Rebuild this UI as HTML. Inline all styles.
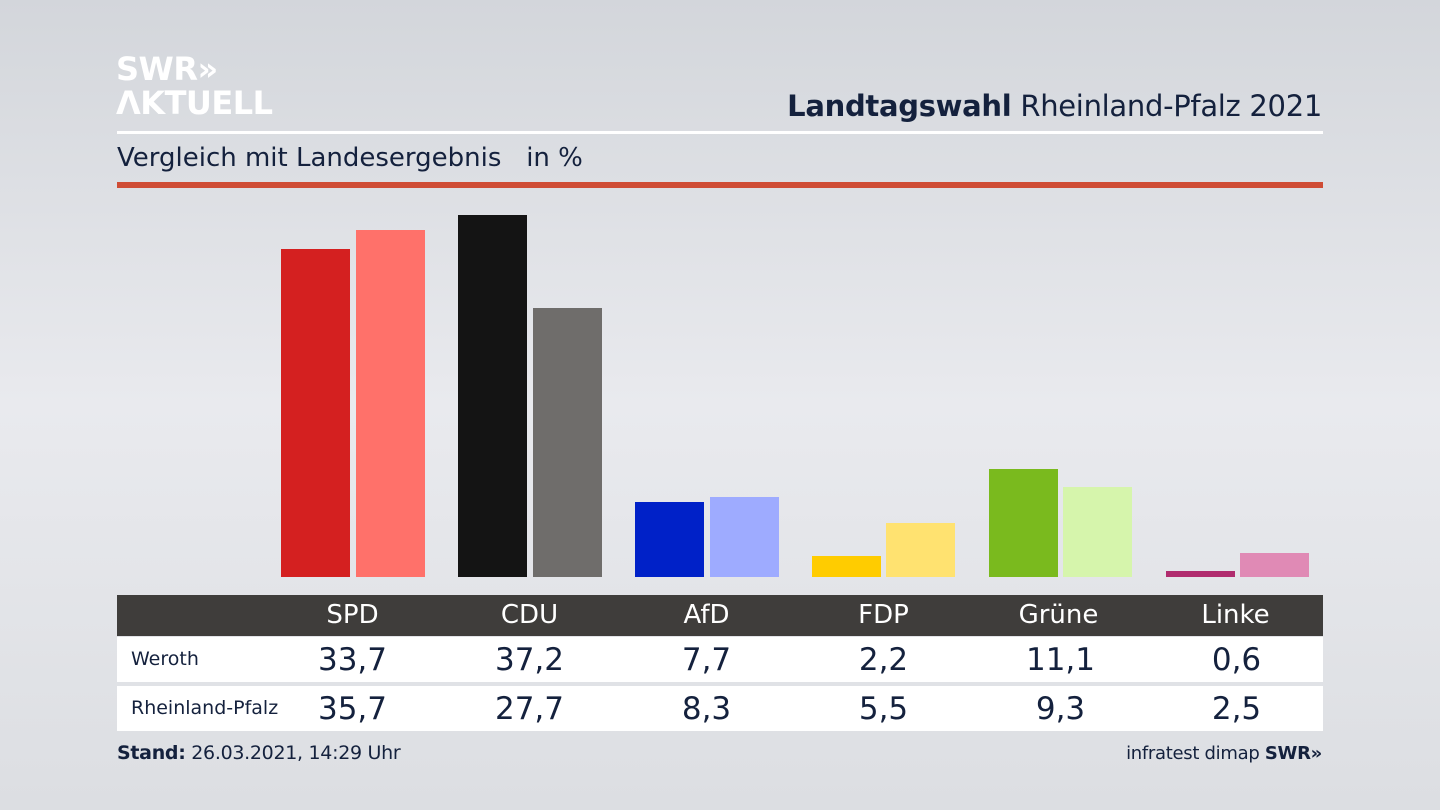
<!DOCTYPE html>
<html><head><meta charset="utf-8"><style>
body{margin:0;width:1440px;height:810px;overflow:hidden;background:linear-gradient(180deg,#d3d6db 0%,#e9eaee 50%,#dcdee2 100%);font-family:"DejaVu Sans","Liberation Sans",sans-serif;position:relative}
.a{position:absolute}
.bar{position:absolute;width:69px}
.c{position:absolute;width:177px;text-align:center}
</style></head><body>
<div class="a" style="left:116px;top:52px;color:#fff;font-weight:bold;font-size:32px;line-height:34px;letter-spacing:-0.5px">SWR»<br>ΛKTUELL</div>
<div class="a" style="right:118px;top:89px;font-size:29px;color:#14213d;letter-spacing:-0.3px"><b>Landtagswahl</b> Rheinland-Pfalz 2021</div>
<div class="a" style="left:117px;top:131px;width:1206px;height:3px;background:#fff"></div>
<div class="a" style="left:117px;top:143px;font-size:26px;color:#14213d">Vergleich mit Landesergebnis&nbsp;&nbsp; in %</div>
<div class="a" style="left:117px;top:182px;width:1206px;height:6px;background:#cf4c35"></div>

<div class="bar" style="left:281px;top:249px;height:328px;background:#d42020"></div>
<div class="bar" style="left:356px;top:230px;height:347px;background:#ff716a"></div>
<div class="bar" style="left:458px;top:215px;height:362px;background:#141414"></div>
<div class="bar" style="left:533px;top:308px;height:269px;background:#6f6d6b"></div>
<div class="bar" style="left:635px;top:502px;height:75px;background:#0021c8"></div>
<div class="bar" style="left:710px;top:497px;height:80px;background:#9eabff"></div>
<div class="bar" style="left:812px;top:556px;height:21px;background:#ffcc00"></div>
<div class="bar" style="left:886px;top:523px;height:54px;background:#ffe270"></div>
<div class="bar" style="left:989px;top:469px;height:108px;background:#7aba1e"></div>
<div class="bar" style="left:1063px;top:487px;height:90px;background:#d6f5ac"></div>
<div class="bar" style="left:1166px;top:571px;height:6px;background:#b02c6e"></div>
<div class="bar" style="left:1240px;top:553px;height:24px;background:#e08ab5"></div>

<div class="a" style="left:117px;top:595px;width:1206px;height:41px;background:#3f3d3b"></div>
<div class="a" style="left:117px;top:637px;width:1206px;height:45px;background:#fff"></div>
<div class="a" style="left:117px;top:686px;width:1206px;height:45px;background:#fff"></div>
<div class="a" style="left:131px;top:648px;font-size:19px;color:#14213d">Weroth</div>
<div class="a" style="left:131px;top:697px;font-size:19px;color:#14213d">Rheinland-Pfalz</div>

<div style="color:#fff;font-size:26px">
<div class="c" style="left:264px;top:600px">SPD</div>
<div class="c" style="left:441px;top:600px">CDU</div>
<div class="c" style="left:618px;top:600px">AfD</div>
<div class="c" style="left:795px;top:600px">FDP</div>
<div class="c" style="left:970px;top:600px">Grüne</div>
<div class="c" style="left:1147px;top:600px">Linke</div>
</div>
<div style="color:#14213d;font-size:31px">
<div class="c" style="left:264px;top:642px">33,7</div>
<div class="c" style="left:441px;top:642px">37,2</div>
<div class="c" style="left:618px;top:642px">7,7</div>
<div class="c" style="left:795px;top:642px">2,2</div>
<div class="c" style="left:972px;top:642px">11,1</div>
<div class="c" style="left:1148px;top:642px">0,6</div>
<div class="c" style="left:264px;top:691px">35,7</div>
<div class="c" style="left:441px;top:691px">27,7</div>
<div class="c" style="left:618px;top:691px">8,3</div>
<div class="c" style="left:795px;top:691px">5,5</div>
<div class="c" style="left:972px;top:691px">9,3</div>
<div class="c" style="left:1148px;top:691px">2,5</div>
</div>
<div class="a" style="left:117px;top:742px;font-size:19px;color:#14213d;letter-spacing:-0.3px"><b>Stand:</b> 26.03.2021, 14:29 Uhr</div>
<div class="a" style="right:118px;top:743px;font-size:18px;color:#14213d;letter-spacing:-0.3px">infratest dimap <b>SWR»</b></div>
</body></html>
